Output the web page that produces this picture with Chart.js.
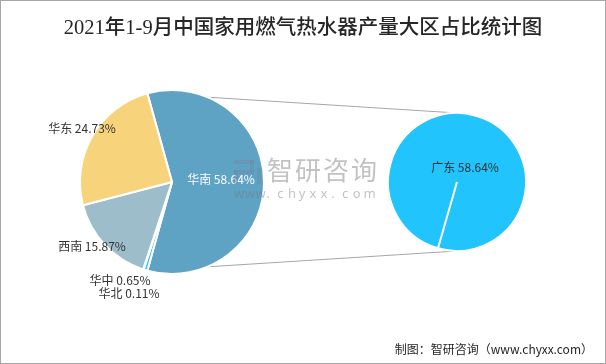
<!DOCTYPE html>
<html>
<head>
<meta charset="utf-8">
<script src="https://cdn.jsdelivr.net/npm/chart.js@4"></script>
<style>
  html, body { margin: 0; padding: 0; background: #fff; }
  #wrap { position: relative; width: 606px; height: 364px; overflow: hidden; }
  #wrap canvas { position: absolute; left: 0; top: 0; }
  #frame { position: absolute; left: 0; top: 0; width: 606px; height: 364px; box-sizing: border-box; border: 1px solid #a6a6a6; pointer-events: none; }
  #title { position: absolute; left: 0; top: 10px; width: 606px; text-align: center; font: 500 20.5px "Liberation Serif", "Noto Sans CJK SC", serif; color: #262626; }
  #source { position: absolute; right: 13px; top: 340px; font: 12px "Noto Sans CJK SC", sans-serif; color: #262626; }
</style>
</head>
<body>
<div id="wrap">
  <canvas id="mainPie" width="606" height="364"></canvas>
  <canvas id="subPie" width="606" height="364"></canvas>
  <div id="title">2021年1-9月中国家用燃气热水器产量大区占比统计图</div>
  <div id="source">制图：智研咨询（www.chyxx.com）</div>
  <div id="frame"></div>
</div>
<script>
// data
const regions = ['华南', '华中', '华北', '西南', '华东'];
const shares = [58.64, 0.65, 0.11, 15.87, 24.73];
const subRegions = ['广东'];
const subShares = [58.64];

const regionColors = ['#5ea3c4', '#2ec4f8', '#4472c4', '#9dbdcb', '#f7d47c'];
const subColors = ['#21c4fd'];

// label anchors relative to the pie centre, px
const mainLabelPos = [[49, -3], [-52, 98], [-43, 111], [-80, 64], [-90, -54]];
const subLabelPos = [[8, -15]];

const pct = v => v.toFixed(2) + '%';

function drawLabels(chart, names, values, pos, colors) {
    const ctx = chart.ctx;
    const arcs = chart.getDatasetMeta(0).data;
    ctx.save();
    ctx.font = '12px "Noto Sans CJK SC", sans-serif';
    ctx.textAlign = 'center';
    ctx.textBaseline = 'middle';
    arcs.forEach((arc, i) => {
        ctx.fillStyle = colors[i];
        ctx.fillText(names[i] + ' ' + pct(values[i]), arc.x + pos[i][0], arc.y + pos[i][1]);
    });
    ctx.restore();
}

// small pie first, the big one reads its geometry for the connector lines
const subChart = new Chart(document.getElementById('subPie'), {
    type: 'pie',
    data: {
        labels: subRegions,
        datasets: [{ data: subShares, backgroundColor: subColors, borderColor: '#fff', borderWidth: 2 }]
    },
    options: {
        responsive: false,
        animation: false,
        rotation: 196,
        layout: { padding: { left: 387, right: 79, top: 112, bottom: 112 } },
        plugins: { legend: { display: false }, tooltip: { enabled: false } }
    },
    plugins: [{
        id: 'subLabels',
        afterDraw(chart) { drawLabels(chart, subRegions, subShares, subLabelPos, ['#333']); }
    }]
});

const mainChart = new Chart(document.getElementById('mainPie'), {
    type: 'pie',
    data: {
        labels: regions,
        datasets: [{ data: shares, backgroundColor: regionColors, borderColor: '#fff', borderWidth: 2 }]
    },
    options: {
        responsive: false,
        animation: false,
        // centre the 华南 slice on the right side
        rotation: 90 - shares[0] / shares.reduce((a, b) => a + b, 0) * 180,
        layout: { padding: { left: 79, right: 341, top: 89, bottom: 89 } },
        plugins: { legend: { display: false }, tooltip: { enabled: false } }
    },
    plugins: [{
        id: 'connectors',
        beforeDatasetsDraw(chart) {
            const ctx = chart.ctx;
            const a = chart.getDatasetMeta(0).data[0];
            const b = subChart.getDatasetMeta(0).data[0];
            ctx.save();
            ctx.strokeStyle = '#a6a6a6';
            ctx.lineWidth = 1;
            ctx.beginPath();
            ctx.moveTo(a.x + a.outerRadius * Math.cos(a.startAngle), a.y + a.outerRadius * Math.sin(a.startAngle));
            ctx.lineTo(b.x, b.y - b.outerRadius);
            ctx.moveTo(a.x + a.outerRadius * Math.cos(a.endAngle), a.y + a.outerRadius * Math.sin(a.endAngle));
            ctx.lineTo(b.x, b.y + b.outerRadius);
            ctx.stroke();
            ctx.restore();
        },
        afterDraw(chart) {
            drawLabels(chart, regions, shares, mainLabelPos, ['#fff', '#333', '#333', '#333', '#333']);
            // watermark
            const ctx = chart.ctx;
            const a = chart.getDatasetMeta(0).data[0];
            ctx.save();
            ctx.globalAlpha = 0.45;
            ctx.fillStyle = '#6f8aa6';
            const lx = a.x + 62, ly = a.y - 22;
            ctx.fillRect(lx, ly, 20, 4);
            ctx.fillRect(lx + 16, ly, 4, 12);
            ctx.fillRect(lx, ly + 10, 20, 4);
            ctx.fillRect(lx, ly + 10, 4, 14);
            ctx.fillRect(lx + 23, ly + 8, 4, 16);
            ctx.fillStyle = '#777';
            ctx.font = '26px "Noto Sans CJK SC", sans-serif';
            ctx.textBaseline = 'middle';
            ctx.textAlign = 'left';
            ctx.fillText('智', lx + 33, ly + 10);
            ctx.fillText('研', lx + 61, ly + 10);
            ctx.fillText('咨', lx + 89, ly + 10);
            ctx.fillText('询', lx + 117, ly + 10);
            ctx.font = '13px "Noto Sans", sans-serif';
            'www.chyxx.com'.split('').forEach((c, i) => ctx.fillText(c, lx + i * 10.8, ly + 34));
            ctx.restore();
        }
    }]
});
</script>
</body>
</html>
